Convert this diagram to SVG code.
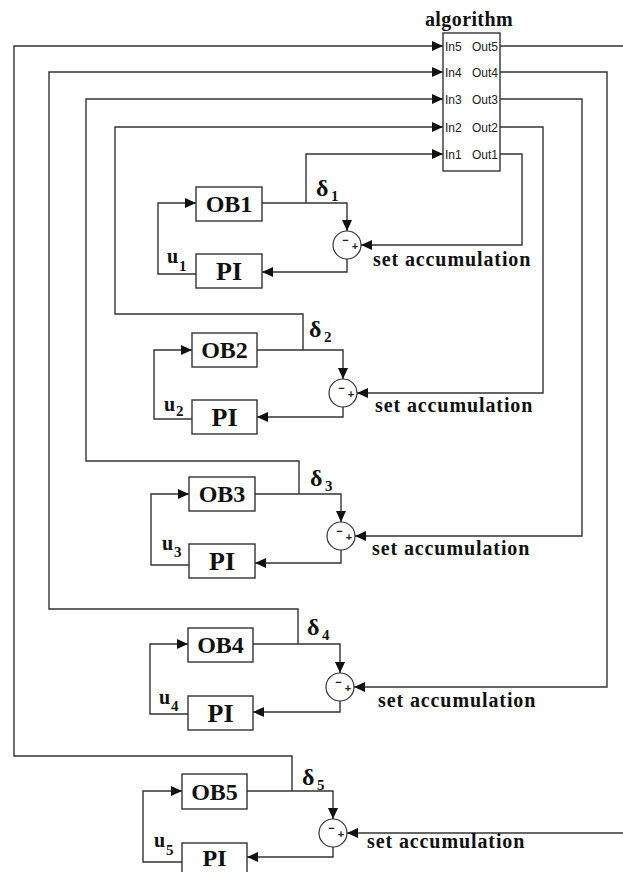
<svg xmlns="http://www.w3.org/2000/svg" width="623" height="872" viewBox="0 0 623 872">
<style>
.ln{fill:none;stroke:#333;stroke-width:1.4}
.ar{marker-end:url(#ah)}
.box{fill:#fff;stroke:#333;stroke-width:1.4}
.sum{fill:#fff;stroke:#333;stroke-width:1.2}
.lbl{font-family:"Liberation Serif","Times New Roman",serif;font-weight:bold;fill:#111}
.ob{font-size:24px;text-anchor:middle}
.pi{font-size:26px;text-anchor:middle}
.sa{font-size:20px;letter-spacing:0.9px}
.dl{font-size:24px}
.u{font-size:20px}
.sub{font-size:15px}
.port{font-family:"Liberation Sans",Arial,sans-serif;font-size:12px;fill:#222}
.sg{font-family:"Liberation Sans",Arial,sans-serif;font-size:11px;font-weight:bold;fill:#222;text-anchor:middle}
</style>
<defs>
<marker id="ah" viewBox="0 0 11 10" refX="11" refY="5" markerWidth="11" markerHeight="10" markerUnits="userSpaceOnUse" orient="auto">
<path d="M0,0 L11,5 L0,10 z" fill="#111"/>
</marker>
</defs>
<rect width="623" height="872" fill="#fff"/>
<g id="connectors">
<path class="ln ar" d="M306,203 V154 H443"/>
<path class="ln ar" d="M303,350 V314 H115 V127 H443"/>
<path class="ln ar" d="M299,494 V461 H86 V99 H443"/>
<path class="ln ar" d="M298,644 V609 H49 V72 H443"/>
<path class="ln ar" d="M292,791 V756 H14 V46 H443"/>
<path class="ln ar" d="M500,154 H522 V245 H361"/>
<path class="ln ar" d="M500,127 H543 V393 H357"/>
<path class="ln ar" d="M500,99 H582 V536 H355"/>
<path class="ln ar" d="M500,72 H607 V687 H354"/>
<path class="ln" d="M500,46 H623"/>
<path class="ln ar" d="M623,833 H347"/>
<path class="ln ar" d="M262,203 H347 V231"/>
<path class="ln ar" d="M347,259 V272 H262"/>
<path class="ln ar" d="M196,274 H158 V203 H196"/>
<path class="ln ar" d="M257,350 H343 V379"/>
<path class="ln ar" d="M343,407 V417 H257"/>
<path class="ln ar" d="M192,419 H154 V350 H192"/>
<path class="ln ar" d="M255,494 H341 V522"/>
<path class="ln ar" d="M341,550 V563 H255"/>
<path class="ln ar" d="M189,565 H151 V494 H189"/>
<path class="ln ar" d="M253,644 H340 V673"/>
<path class="ln ar" d="M340,701 V712 H253"/>
<path class="ln ar" d="M188,714 H150 V644 H188"/>
<path class="ln ar" d="M247,791 H333 V819"/>
<path class="ln ar" d="M333,847 V857 H247"/>
<path class="ln ar" d="M182,862 H143 V791 H182"/>
</g>
<g id="algorithm">
<rect class="box" x="443" y="33" width="57" height="138"/>
<text class="lbl" x="469" y="26" font-size="20" text-anchor="middle" letter-spacing="0.4">algorithm</text>
<text class="port" x="445" y="51">In5</text><text class="port" x="498" y="51" text-anchor="end">Out5</text>
<text class="port" x="445" y="77">In4</text><text class="port" x="498" y="77" text-anchor="end">Out4</text>
<text class="port" x="445" y="104">In3</text><text class="port" x="498" y="104" text-anchor="end">Out3</text>
<text class="port" x="445" y="132">In2</text><text class="port" x="498" y="132" text-anchor="end">Out2</text>
<text class="port" x="445" y="159">In1</text><text class="port" x="498" y="159" text-anchor="end">Out1</text>
</g>
<g id="ob1"><rect class="box" x="196" y="187" width="66" height="34"/><text class="lbl ob" x="229" y="212">OB1</text></g>
<g id="pi1"><rect class="box" x="196" y="254" width="66" height="34"/><text class="lbl pi" x="229" y="280">PI</text></g>
<g id="sum1"><circle class="sum" cx="347" cy="245" r="14"/><text class="sg" x="345.5" y="244">−</text><text class="sg" x="355" y="250">+</text></g>
<g id="ob2"><rect class="box" x="192" y="333" width="65" height="34"/><text class="lbl ob" x="224.5" y="358">OB2</text></g>
<g id="pi2"><rect class="box" x="192" y="400" width="65" height="34"/><text class="lbl pi" x="224.5" y="426">PI</text></g>
<g id="sum2"><circle class="sum" cx="343" cy="393" r="14"/><text class="sg" x="341.5" y="392">−</text><text class="sg" x="351" y="398">+</text></g>
<g id="ob3"><rect class="box" x="189" y="477" width="66" height="34"/><text class="lbl ob" x="222" y="502">OB3</text></g>
<g id="pi3"><rect class="box" x="189" y="544" width="66" height="34"/><text class="lbl pi" x="222" y="570">PI</text></g>
<g id="sum3"><circle class="sum" cx="341" cy="536" r="14"/><text class="sg" x="339.5" y="535">−</text><text class="sg" x="349" y="541">+</text></g>
<g id="ob4"><rect class="box" x="188" y="628" width="65" height="34"/><text class="lbl ob" x="220.5" y="653">OB4</text></g>
<g id="pi4"><rect class="box" x="188" y="696" width="65" height="34"/><text class="lbl pi" x="220.5" y="722">PI</text></g>
<g id="sum4"><circle class="sum" cx="340" cy="687" r="14"/><text class="sg" x="338.5" y="686">−</text><text class="sg" x="348" y="692">+</text></g>
<g id="ob5"><rect class="box" x="182" y="774" width="65" height="35"/><text class="lbl ob" x="214.5" y="800">OB5</text></g>
<g id="pi5"><rect class="box" x="182" y="843" width="65" height="34"/><text class="lbl" x="214.5" y="866" font-size="24" text-anchor="middle">PI</text></g>
<g id="sum5"><circle class="sum" cx="333" cy="833" r="14"/><text class="sg" x="331.5" y="832">−</text><text class="sg" x="341" y="838">+</text></g>
<g id="labels">
<text class="lbl dl" x="316" y="196">δ</text><text class="lbl sub" x="331" y="201">1</text>
<text class="lbl dl" x="309" y="337">δ</text><text class="lbl sub" x="324" y="342">2</text>
<text class="lbl dl" x="310" y="486">δ</text><text class="lbl sub" x="325" y="491">3</text>
<text class="lbl dl" x="307" y="635">δ</text><text class="lbl sub" x="322" y="640">4</text>
<text class="lbl dl" x="302" y="785">δ</text><text class="lbl sub" x="317" y="790">5</text>
<text class="lbl u" x="167" y="263">u</text><text class="lbl sub" x="179" y="271">1</text>
<text class="lbl u" x="164" y="411">u</text><text class="lbl sub" x="176" y="416">2</text>
<text class="lbl u" x="162" y="550">u</text><text class="lbl sub" x="174" y="557">3</text>
<text class="lbl u" x="159" y="704">u</text><text class="lbl sub" x="171" y="711">4</text>
<text class="lbl u" x="154" y="847">u</text><text class="lbl sub" x="166" y="855">5</text>
<text class="lbl sa" x="373" y="266">set accumulation</text>
<text class="lbl sa" x="375" y="412">set accumulation</text>
<text class="lbl sa" x="372" y="555">set accumulation</text>
<text class="lbl sa" x="378" y="707">set accumulation</text>
<text class="lbl sa" x="367" y="848">set accumulation</text>
</g>
</svg>
